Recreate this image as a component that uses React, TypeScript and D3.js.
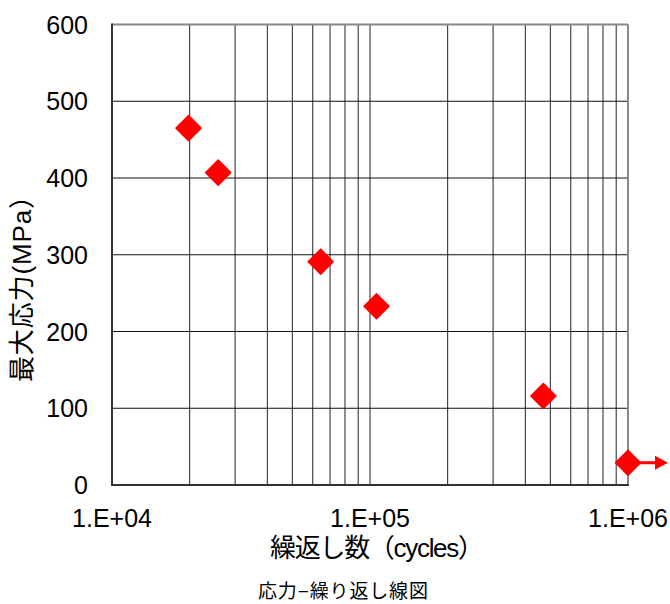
import React from "react";
import * as d3 from "d3";

const cycles = [19800, 25800, 64400, 106000, 470000, 1000000];
const stress = [465, 407, 291, 233, 116, 29];
const yTicks = [0, 100, 200, 300, 400, 500, 600];
const xTickLabels = ["1.E+04", "1.E+05", "1.E+06"];
const xTickValues = [1e4, 1e5, 1e6];
const runoutIndex = [5];

const W = 670, H = 604;
const left = 112, right = 628, top = 24.5, bottom = 485;
const FONT = "'Liberation Sans', 'Noto Sans CJK JP', sans-serif";

export default function App() {
  const x = d3.scaleLog().domain([1e4, 1e6]).range([left, right]);
  const y = d3.scaleLinear().domain([0, 600]).range([bottom, top]);
  const minor: number[] = [];
  [1e4, 1e5].forEach((d) => {
    for (let k = 2; k <= 9; k++) minor.push(d * k);
  });
  const r = 12.5;
  return (
    <svg width={W} height={H} style={{ position: "absolute", left: 0, top: 0, background: "#fff" }}>
      <rect x={0} y={0} width={W} height={H} fill="#fff" />
      {minor.map((v, i) => (
        <line key={"v" + i} x1={x(v)} x2={x(v)} y1={top} y2={bottom} stroke="#222" strokeWidth={1} />
      ))}
      <line x1={x(1e5)} x2={x(1e5)} y1={top} y2={bottom} stroke="#222" strokeWidth={1} />
      {yTicks.slice(1, -1).map((v) => (
        <line key={"h" + v} x1={left} x2={right} y1={y(v)} y2={y(v)} stroke="#111" strokeWidth={1} />
      ))}
      <line x1={left} x2={right} y1={top} y2={top} stroke="#888" strokeWidth={2} />
      <line x1={right} x2={right} y1={top} y2={bottom} stroke="#888" strokeWidth={2} />
      <line x1={left} x2={left} y1={top - 1} y2={bottom + 1} stroke="#333" strokeWidth={2} />
      <line x1={left - 1} x2={right + 1} y1={bottom} y2={bottom} stroke="#333" strokeWidth={2} />
      {yTicks.map((v) => (
        <text key={"yt" + v} x={88} y={y(v)} dy="0.36em" textAnchor="end" fontFamily={FONT} fontSize={25} fill="#000">
          {v}
        </text>
      ))}
      {xTickValues.map((v, i) => (
        <text key={"xt" + i} x={x(v)} y={527} textAnchor="middle" fontFamily={FONT} fontSize={25} fill="#000">
          {xTickLabels[i]}
        </text>
      ))}
      {runoutIndex.map((i) => {
        const cx = x(cycles[i]);
        const cy = y(stress[i]);
        return (
          <g key={"ar" + i}>
            <line x1={cx} x2={cx + 30} y1={cy} y2={cy} stroke="#f00" strokeWidth={3} />
            <path d={`M${cx + 27},${cy - 7}L${cx + 40},${cy}L${cx + 27},${cy + 7}Z`} fill="#f00" />
          </g>
        );
      })}
      {cycles.map((c, i) => {
        const cx = x(c);
        const cy = y(stress[i]);
        return (
          <path
            key={"p" + i}
            d={`M${cx},${cy - r}L${cx + r},${cy}L${cx},${cy + r}L${cx - r},${cy}Z`}
            fill="#f00"
            stroke="#f00"
            strokeWidth={1.5}
            strokeLinejoin="round"
          />
        );
      })}
      <text x={270} y={557} textLength={214} lengthAdjust="spacing" fontFamily={FONT} fontSize={26} fill="#000">
        繰返し数（cycles）
      </text>
      <text
        transform={`translate(31,382) rotate(-90)`}
        textLength={199}
        lengthAdjust="spacing"
        fontFamily={FONT}
        fontSize={26}
        fill="#000"
      >
        最大応力(MPa）
      </text>
      <text x={258} y={598} textLength={170} lengthAdjust="spacing" fontFamily={FONT} fontSize={19} fill="#000">
        応力−繰り返し線図
      </text>
    </svg>
  );
}
